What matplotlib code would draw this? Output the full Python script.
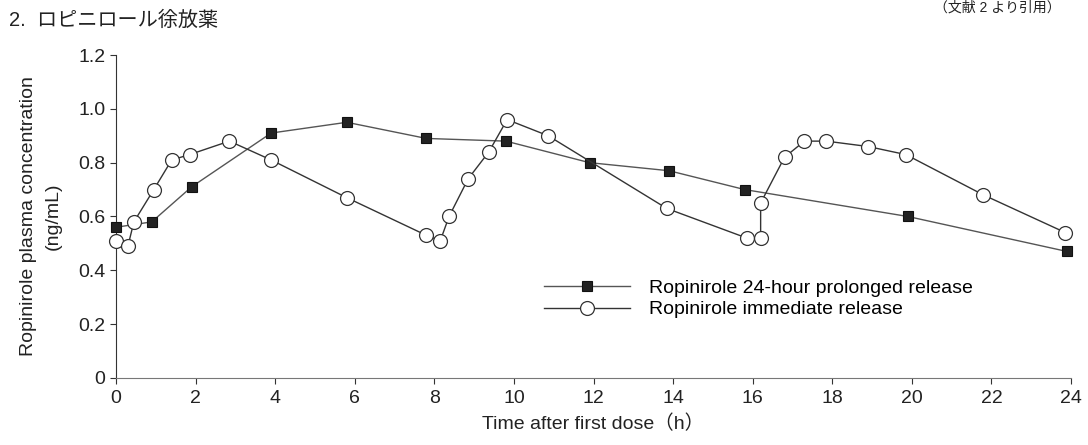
import matplotlib
matplotlib.use("Agg")
import matplotlib.pyplot as plt

plt.rcParams["font.family"] = ["Liberation Sans", "Noto Sans CJK JP", "DejaVu Sans"]

# ===================== Data =====================
# Ropinirole 24-hour prolonged release (filled squares)
pr_time = [0.0, 0.9, 1.9, 3.9, 5.8, 7.8, 9.8, 11.9, 13.9, 15.8, 19.9, 23.9]
pr_conc = [0.56, 0.58, 0.71, 0.91, 0.95, 0.89, 0.88, 0.80, 0.77, 0.70, 0.60, 0.47]

# Ropinirole immediate release (open circles)
ir_time = [0.0, 0.3, 0.45, 0.95, 1.4, 1.85, 2.85, 3.9, 5.8, 7.8, 8.15, 8.37,
           8.85, 9.37, 9.83, 10.86, 13.84, 15.85, 16.2, 16.2, 16.8, 17.3,
           17.85, 18.9, 19.85, 21.8, 23.86]
ir_conc = [0.51, 0.49, 0.58, 0.70, 0.81, 0.83, 0.88, 0.81, 0.67, 0.53, 0.51, 0.60,
           0.74, 0.84, 0.96, 0.90, 0.63, 0.52, 0.52, 0.65, 0.82, 0.88,
           0.88, 0.86, 0.83, 0.68, 0.54]

x_ticks = list(range(0, 25, 2))
y_ticks = [0, 0.2, 0.4, 0.6, 0.8, 1.0, 1.2]
y_tick_labels = ["0", "0.2", "0.4", "0.6", "0.8", "1.0", "1.2"]

# ===================== Plot =====================
fig = plt.figure(figsize=(10.88, 4.45), dpi=100)
ax = fig.add_axes([0.1066, 0.1506, 0.8778, 0.7258])

ax.plot(pr_time, pr_conc, color="#555555", lw=1.0, marker="s", ms=6.5,
        mfc="#222222", mec="#111111", mew=0.8, clip_on=False, zorder=3,
        label="Ropinirole 24-hour prolonged release")
ax.plot(ir_time, ir_conc, color="#333333", lw=1.0, marker="o", ms=10,
        mfc="white", mec="#333333", mew=0.9, clip_on=False, zorder=4,
        label="Ropinirole immediate release")

ax.set_xlim(0, 24)
ax.set_ylim(0, 1.2)
ax.set_xticks(x_ticks)
ax.set_yticks(y_ticks)
ax.set_yticklabels(y_tick_labels)

for side in ("top", "right"):
    ax.spines[side].set_visible(False)
ax.spines["left"].set_color("#333333")
ax.spines["bottom"].set_color("#777777")
ax.tick_params(direction="out", length=4, width=0.8, colors="#333333",
               labelsize=14, labelcolor="#222222")
ax.tick_params(axis="x", pad=5)

ax.set_xlabel("Time after first dose（h）", fontsize=14, color="#222222", labelpad=5)
ax.set_ylabel("Ropinirole plasma concentration\n(ng/mL)", fontsize=14,
              color="#222222", labelpad=12, linespacing=1.6)

ax.legend(loc="upper left", bbox_to_anchor=(0.43, 0.36), frameon=False,
          fontsize=14, handlelength=4.4, handletextpad=1.0, labelspacing=0.2)

fig.text(0.008, 0.955, "2.  ロピニロール徐放薬", fontsize=14.5, color="#222222",
         va="center", ha="left")
fig.text(0.975, 0.998, "（文献 2 より引用）", fontsize=10, color="#222222",
         va="top", ha="right")

fig.savefig("out.png", dpi=100)
